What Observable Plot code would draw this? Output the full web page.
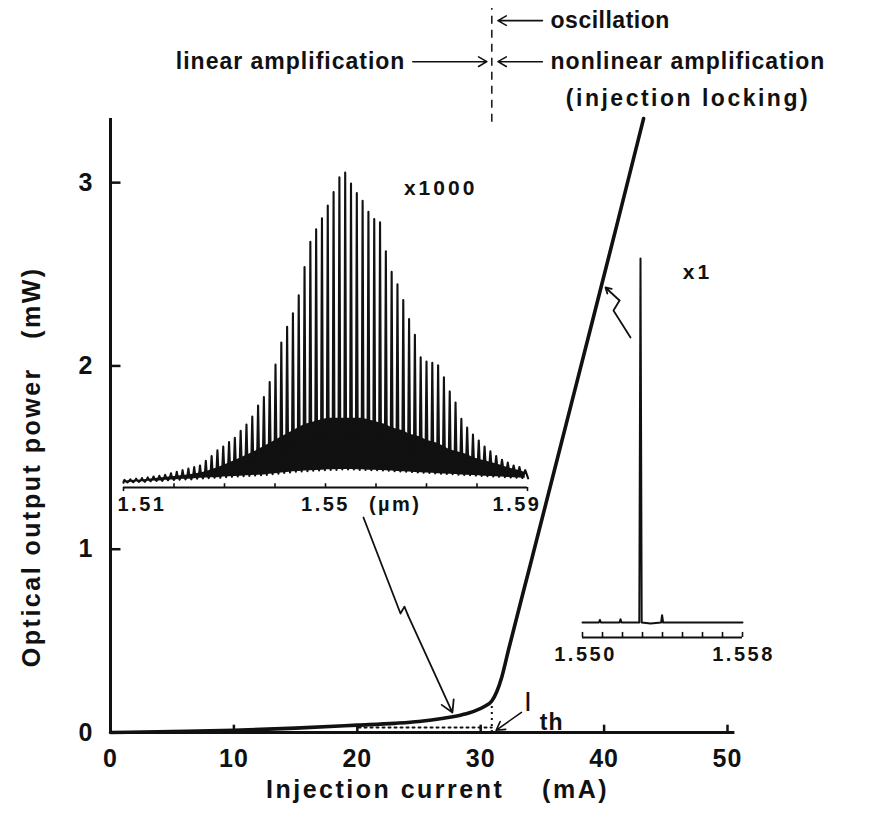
<!DOCTYPE html>
<html><head><meta charset="utf-8">
<script src="https://cdn.jsdelivr.net/npm/d3@7"></script>
<script src="https://cdn.jsdelivr.net/npm/@observablehq/plot@0.6"></script>
<style>
body{margin:0;background:#fff;}
#wrap{position:relative;width:870px;height:820px;overflow:hidden;background:#fff;}
#wrap > svg{position:absolute;left:0;top:0;}
</style></head><body><div id="wrap"></div>
<script>
// ---------- data ----------
// main L-I curve
const currentMA = [0, 5, 10, 15, 20, 23, 25, 27, 28.5, 29.5, 30.3, 30.9, 31.3, 31.7, 32.25, 34, 36.5, 39, 41, 43.2];
const powerMW   = [0, 0.005, 0.012, 0.024, 0.04, 0.05, 0.06, 0.078, 0.097, 0.117, 0.142, 0.172, 0.222, 0.30, 0.45, 0.91, 1.57, 2.23, 2.76, 3.35];
const xTicks = [0, 10, 20, 30, 40, 50];
const yTicks = [0, 1, 2, 3];
const thresholdMA = 30.9;
const spontMA = [20.1, 30.9];
const spontMW = [0.027, 0.027];
const xTitle = "Injection current\u00a0\u00a0\u00a0\u00a0(mA)";
const yTitle = "Optical output power\u00a0\u00a0\u00a0(mW)";
const labelOsc = "oscillation";
const labelLinear = "linear amplification";
const labelNonlinear = "nonlinear amplification";
const labelLocking = "(injection locking)";

// inset 1: amplified spontaneous emission spectrum (x1000)
const modeWavelengths = [1.51020,1.51135,1.51250,1.51365,1.51480,1.51595,1.51710,1.51825,1.51940,1.52055,
  1.52170,1.52285,1.52400,1.52515,1.52630,1.52745,1.52860,1.52975,1.53090,1.53205,
  1.53320,1.53435,1.53550,1.53665,1.53780,1.53895,1.54010,1.54125,1.54240,1.54355,
  1.54470,1.54585,1.54700,1.54815,1.54930,1.55045,1.55160,1.55275,1.55390,1.55505,
  1.55620,1.55735,1.55850,1.55965,1.56080,1.56195,1.56310,1.56425,1.56540,1.56655,
  1.56770,1.56885,1.57000,1.57115,1.57230,1.57345,1.57460,1.57575,1.57690,1.57805,
  1.57920,1.58035,1.58150,1.58265,1.58380,1.58495,1.58610,1.58725,1.58840,1.58955];
const modePeaks = [2.4,2.6,2.8,3.0,3.2,3.5,3.7,4.0,4.5,5.0,
  5.5,6.0,6.5,7.0,8.5,10.0,11.8,13.0,14.4,15.8,
  18.0,20.0,22.5,26.0,28.7,33.5,39.0,46.0,51.0,55.3,
  61.0,70.0,78.0,82.0,85.5,89.5,93.8,98.5,100.0,96.5,
  93.5,91.0,87.5,85.2,84.2,75.0,68.5,64.5,59.5,53.5,
  48.5,41.3,40.0,39.6,38.8,35.0,30.5,27.0,21.8,19.0,
  16.8,14.9,13.0,11.5,10.0,8.8,7.9,7.0,6.5,5.5];
// level of the broad base of each mode (top of the dark band)
const modeShoulders = [2.0,2.2,2.3,2.4,2.6,2.8,3.0,3.2,3.4,3.6,
  3.8,4.0,4.3,4.6,5.0,5.6,6.3,7.0,7.8,8.6,
  9.4,10.2,11.0,12.0,13.0,14.0,15.0,16.0,17.0,18.0,
  19.0,20.0,20.5,21.0,21.5,22.0,22.0,22.0,22.0,22.0,
  22.0,22.0,21.5,21.0,20.5,20.0,19.0,18.5,18.0,17.0,
  16.5,16.0,15.0,14.5,14.0,13.0,12.0,11.5,11.0,10.5,
  9.5,9.0,8.5,8.0,7.5,7.0,6.3,5.8,5.4,4.8];
const modeValleys = [1.6,1.7,1.8,1.8,2.0,2.1,2.1,2.3,2.4,2.5,
  2.6,2.6,2.8,2.9,3.0,3.1,3.1,3.3,3.4,3.5,
  3.6,3.7,3.8,3.9,4.0,4.2,4.4,4.6,4.8,5.0,
  5.1,5.2,5.3,5.4,5.5,5.6,5.6,5.7,5.7,5.7,
  5.6,5.6,5.5,5.5,5.4,5.3,5.2,5.1,5.0,4.9,
  4.8,4.7,4.6,4.5,4.4,4.3,4.2,4.1,4.0,3.9,
  3.8,3.7,3.6,3.5,3.4,3.3,3.2,3.1,3.0,2.9];
const spec1StartW = 1.5100, spec1StartV = 1.5;
const inset1Ticks = [1.51,1.52,1.53,1.54,1.55,1.56,1.57,1.58,1.59];
const inset1Labels = ["1.51", "1.55", "(\u00b5m)", "1.59"];
const inset1Scale = "x1000";

// inset 2: injection-locked spectrum (x1)
const spec2W = [1.5500, 1.55082, 1.55087, 1.55092, 1.55185, 1.5519, 1.55195, 1.55284, 1.5529, 1.55296, 1.5534, 1.55393, 1.55398, 1.55403, 1.5580];
const spec2V = [0, 0, 0.7, 0, 0, 0.9, 0, 0, 100, 0, -0.3, 0, 2.0, 0, 0];
const inset2Ticks = [1.550,1.551,1.552,1.553,1.554,1.555,1.556,1.557,1.558];
const inset2Labels = ["1.550", "1.558"];
const inset2Scale = "x1";

// ---------- drawing ----------
const FONT = '"Liberation Sans", Arial, "DejaVu Sans", sans-serif';
const INK = "#111";
const baseStyle = {background: "transparent", overflow: "visible", fontFamily: FONT, fontWeight: "bold", color: INK};

const mainData = currentMA.map((x, i) => ({x, y: powerMW[i]}));
const spontData = spontMA.map((x, i) => ({x, y: spontMW[i]}));

// annotation anchors (data coordinates of the main plot)
const annTop = 3.884, annMid = 3.66, annLow = 3.46;
const T = (o) => Object.assign({fontWeight: "bold", fill: INK, text: d => d}, o);

const main = Plot.plot({
  width: 870, height: 820,
  marginLeft: 110, marginRight: 143, marginTop: 118, marginBottom: 88,
  x: {domain: [0, 50], axis: null},
  y: {domain: [0, 3.35], axis: null},
  style: baseStyle,
  marks: [
    // axes
    Plot.ruleX([0], {y1: 0, y2: 3.35, stroke: INK, strokeWidth: 3}),
    Plot.ruleY([0], {x1: 0, x2: 50.6, stroke: INK, strokeWidth: 3}),
    Plot.ruleX(xTicks, {x: d => d, y1: 0, y2: 0.04, stroke: INK, strokeWidth: 2.5}),
    Plot.ruleY(yTicks, {y: d => d, x1: 0, x2: 0.85, stroke: INK, strokeWidth: 2.5}),
    Plot.text(xTicks, T({x: d => d, y: 0, dy: 26, text: d => String(d), fontSize: 25})),
    Plot.text(yTicks, T({x: 0, y: d => d, dx: -17, textAnchor: "end", text: d => String(d), fontSize: 25})),
    Plot.text([xTitle], T({x: 26.5, y: -0.316, fontSize: 25})),
    Plot.text([yTitle], T({x: -6.4, y: 1.45, rotate: -90, fontSize: 25})),
    // dotted construction lines
    Plot.line(spontData, {x: "x", y: "y", stroke: INK, strokeWidth: 2, strokeDasharray: "2,4"}),
    Plot.ruleX([thresholdMA], {y1: 0, y2: 0.165, stroke: INK, strokeWidth: 2, strokeDasharray: "2,4"}),
    // main curve
    Plot.line(mainData, {x: "x", y: "y", stroke: INK, strokeWidth: 3.6, curve: "monotone-x"}),
    // threshold dashed line and top annotations
    Plot.ruleX([thresholdMA], {y1: 3.33, y2: 3.95, stroke: INK, strokeWidth: 1.5, strokeDasharray: "8,6"}),
    Plot.arrow([0], {x1: 35.0, y1: annTop, x2: 31.4, y2: annTop, stroke: INK, strokeWidth: 1.6, headLength: 9}),
    Plot.arrow([0], {x1: 24.5, y1: annMid, x2: 30.5, y2: annMid, stroke: INK, strokeWidth: 1.6, headLength: 9}),
    Plot.arrow([0], {x1: 35.0, y1: annMid, x2: 31.4, y2: annMid, stroke: INK, strokeWidth: 1.6, headLength: 9}),
    Plot.text([labelOsc], T({x: 35.66, y: annTop, textAnchor: "start", fontSize: 23})),
    Plot.text([labelLinear], T({x: 23.9, y: annMid, textAnchor: "end", fontSize: 23})),
    Plot.text([labelNonlinear], T({x: 35.66, y: annMid, textAnchor: "start", fontSize: 23})),
    Plot.text([labelLocking], T({x: 36.9, y: annLow, textAnchor: "start", fontSize: 23})),
    // zigzag pointer from inset 1 to the curve
    Plot.line([{x: 20.5, y: 1.173}, {x: 23.5, y: 0.649}, {x: 23.82, y: 0.687}, {x: 24.1, y: 0.64}], {x: "x", y: "y", stroke: INK, strokeWidth: 1.8}),
    Plot.arrow([0], {x1: 24.1, y1: 0.64, x2: 27.71, y2: 0.109, stroke: INK, strokeWidth: 1.8, headLength: 11}),
    // zigzag pointer from inset 2 to the curve
    Plot.line([{x: 42.14, y: 2.155}, {x: 40.76, y: 2.302}, {x: 41.25, y: 2.357}], {x: "x", y: "y", stroke: INK, strokeWidth: 1.8}),
    Plot.arrow([0], {x1: 41.25, y1: 2.357, x2: 40.11, y2: 2.428, stroke: INK, strokeWidth: 1.8, headLength: 10}),
    // I_th label
    Plot.arrow([0], {x1: 33.3, y1: 0.11, x2: 31.25, y2: 0.012, stroke: INK, strokeWidth: 1.6, headLength: 9}),
    Plot.text(["I"], T({x: 33.87, y: 0.164, fontSize: 28, fontWeight: "normal"})),
    Plot.text(["th"], T({x: 35.75, y: 0.055, fontSize: 23}))
  ]
});

// inset 1: each mode = valley, broad base (shoulder), narrow spike
const spec1 = [{w: spec1StartW, v: spec1StartV}];
const band1 = [];
modeWavelengths.forEach((w, i) => {
  const prev = i > 0 ? modeWavelengths[i - 1] : w - (modeWavelengths[1] - w);
  const next = i + 1 < modeWavelengths.length ? modeWavelengths[i + 1] : w + (w - modeWavelengths[i - 1]);
  const sL = (w - prev) * 0.14, sR = (next - w) * 0.14;
  spec1.push({w: w - sL, v: modeShoulders[i]});
  spec1.push({w, v: modePeaks[i]});
  spec1.push({w: w + sR, v: modeShoulders[i]});
  spec1.push({w: (w + next) / 2, v: modeValleys[i]});
  band1.push({w, lo: modeValleys[i], hi: modeShoulders[i]});
});
const inset1 = Plot.plot({
  width: 460, height: 370,
  marginLeft: 23, marginRight: 33, marginTop: 22, marginBottom: 33,
  x: {domain: [1.51, 1.59], axis: null},
  y: {domain: [0, 100], axis: null},
  style: baseStyle,
  marks: [
    Plot.areaY(band1, {x: "w", y1: "lo", y2: "hi", fill: INK}),
    Plot.line(spec1, {x: "w", y: "v", stroke: INK, strokeWidth: 2.1, strokeLinejoin: "round"}),
    Plot.ruleY([0], {x1: 1.51, x2: 1.59, stroke: INK, strokeWidth: 2}),
    Plot.ruleX(inset1Ticks.slice(1, -1), {x: d => d, y1: 0, y2: 1.2, stroke: INK, strokeWidth: 1.6}),
    Plot.ruleX([inset1Ticks[0], inset1Ticks[inset1Ticks.length - 1]], {x: d => d, y1: 0, y2: -1.3, stroke: INK, strokeWidth: 1.6}),
    Plot.text([inset1Labels[0]], T({x: 1.51, y: 0, dx: -6, dy: 17, textAnchor: "start", fontSize: 20})),
    Plot.text([inset1Labels[1]], T({x: 1.55, y: 0, dy: 17, fontSize: 20})),
    Plot.text([inset1Labels[2]], T({x: 1.5638, y: 0, dy: 17, fontSize: 20})),
    Plot.text([inset1Labels[3]], T({x: 1.59, y: 0, dx: 14, dy: 17, textAnchor: "end", fontSize: 20})),
    Plot.text([inset1Scale], T({x: 1.5728, y: 94.9, fontSize: 21}))
  ]
});
inset1.style.left = "100px"; inset1.style.top = "150px";

// inset 2
const spec2 = spec2W.map((w, i) => ({w, v: spec2V[i]}));
const axis2 = -4.12;
const inset2 = Plot.plot({
  width: 220, height: 440,
  marginLeft: 22, marginRight: 38, marginTop: 18, marginBottom: 58,
  x: {domain: [1.550, 1.558], axis: null},
  y: {domain: [0, 100], axis: null},
  style: baseStyle,
  marks: [
    Plot.line(spec2, {x: "w", y: "v", stroke: INK, strokeWidth: 2, strokeLinejoin: "round"}),
    Plot.ruleY([axis2], {x1: 1.550, x2: 1.558, stroke: INK, strokeWidth: 2}),
    Plot.ruleX(inset2Ticks, {x: d => d, y1: axis2, y2: axis2 + 1.4, stroke: INK, strokeWidth: 1.6}),
    Plot.text([inset2Labels[0]], T({x: 1.55015, y: axis2, dy: 17, fontSize: 20})),
    Plot.text([inset2Labels[1]], T({x: 1.55805, y: axis2, dy: 17, fontSize: 20})),
    Plot.text([inset2Scale], T({x: 1.55575, y: 96.2, fontSize: 21}))
  ]
});
inset2.style.left = "560px"; inset2.style.top = "240px";

const wrap = document.getElementById("wrap");
wrap.appendChild(main);
wrap.appendChild(inset1);
wrap.appendChild(inset2);

// letter spacing of the widely set lettering
const spacing = new Map([
  [xTitle, 2.5], [yTitle, 2.5], [labelLocking, 2.5], [labelNonlinear, 1], [labelLinear, 1], [labelOsc, 0.5],
  [inset1Scale, 3], [inset2Scale, 3], ...inset1Labels.map(s => [s, 2.5]), ...inset2Labels.map(s => [s, 2.5])
]);
d3.selectAll("#wrap text").each(function () {
  const s = spacing.has(this.textContent) ? spacing.get(this.textContent) : 1;
  this.style.letterSpacing = s + "px";
});
</script>
</body></html>
